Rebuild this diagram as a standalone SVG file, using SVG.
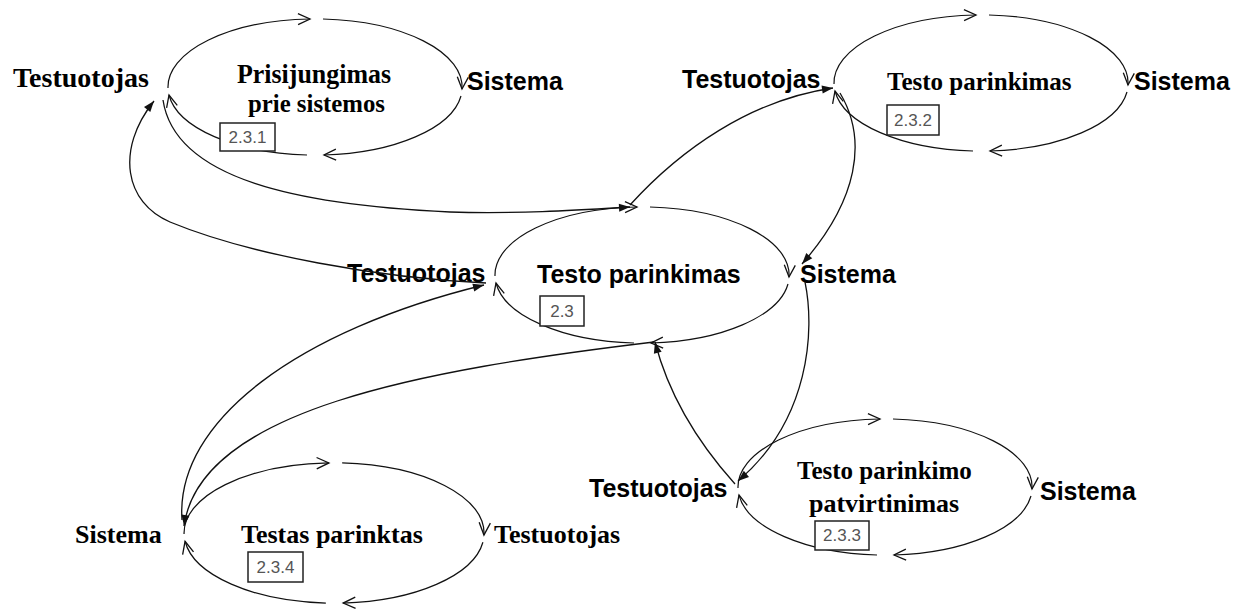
<svg xmlns="http://www.w3.org/2000/svg" width="1244" height="610" viewBox="0 0 1244 610">
  <defs>
    <style>
      .arc{fill:none;stroke:#111;stroke-width:1.2;marker-end:url(#open)}
      .flow{fill:none;stroke:#111;stroke-width:1.3;marker-end:url(#solid)}
      .serif{font-family:"Liberation Serif","Times New Roman",serif;font-weight:bold;fill:#000}
      .sans{font-family:"Liberation Sans",Arial,sans-serif;font-weight:bold;font-size:25px;fill:#000}
      .tag rect{fill:#fff;stroke:#222;stroke-width:1.5}
      .tag text{font-family:"Liberation Sans",Arial,sans-serif;font-size:17px;fill:#555;text-anchor:middle}
    </style>
    <marker id="open" viewBox="0 0 12 12" refX="12" refY="6" markerWidth="12" markerHeight="12" markerUnits="userSpaceOnUse" orient="auto" overflow="visible">
      <path d="M0,0.5 L12,6 L0,11.5" fill="none" stroke="#111" stroke-width="1.3"/>
    </marker>
    <marker id="solid" viewBox="0 0 11 8" refX="11" refY="4" markerWidth="11" markerHeight="8" markerUnits="userSpaceOnUse" orient="auto" overflow="visible">
      <path d="M0,0 L11,4 L0,8 z" fill="#111"/>
    </marker>
    <!-- process loop: four quarter arcs, each ending in an open arrowhead -->
    <g id="loop">
      <path class="arc" d="M-147,1 A147,68 0 0 1 -5,-68"/>
      <path class="arc" d="M8,-68 A147,68 0 0 1 147,2"/>
      <path class="arc" d="M146,9 A147,68 0 0 1 9,68"/>
      <path class="arc" d="M-8,68 A147,68 0 0 1 -146,8"/>
    </g>
  </defs>

  <rect width="1244" height="610" fill="#fff"/>

  <!-- 2.3.1 Prisijungimas prie sistemos -->
  <g id="n231">
    <use href="#loop" transform="translate(315,87)"/>
    <text class="serif" x="13" y="87" font-size="28">Testuotojas</text>
    <text class="serif" x="237" y="83" font-size="27" textLength="154" lengthAdjust="spacingAndGlyphs">Prisijungimas</text>
    <text class="serif" x="248" y="112" font-size="25" textLength="137" lengthAdjust="spacingAndGlyphs">prie sistemos</text>
    <text class="sans" x="467" y="90">Sistema</text>
    <g class="tag"><rect x="220" y="123" width="55" height="28"/><text x="247.5" y="143">2.3.1</text></g>
  </g>

  <!-- 2.3.2 Testo parinkimas -->
  <g id="n232">
    <use href="#loop" transform="translate(981,83)"/>
    <text class="sans" x="682" y="88">Testuotojas</text>
    <text class="serif" x="887" y="90" font-size="25">Testo parinkimas</text>
    <text class="sans" x="1134" y="90">Sistema</text>
    <g class="tag"><rect x="887" y="105" width="52" height="30"/><text x="913" y="126">2.3.2</text></g>
  </g>

  <!-- 2.3 Testo parinkimas (main process) -->
  <g id="n23">
    <use href="#loop" transform="translate(642,275)"/>
    <text class="sans" x="347" y="282">Testuotojas</text>
    <text class="sans" x="537" y="283">Testo parinkimas</text>
    <text class="sans" x="800" y="283">Sistema</text>
    <g class="tag"><rect x="540" y="296" width="44" height="30"/><text x="562" y="317">2.3</text></g>
  </g>

  <!-- 2.3.3 Testo parinkimo patvirtinimas -->
  <g id="n233">
    <use href="#loop" transform="translate(885,487)"/>
    <text class="sans" x="589" y="497">Testuotojas</text>
    <text class="serif" x="797" y="479" font-size="25">Testo parinkimo</text>
    <text class="serif" x="809" y="512" font-size="26">patvirtinimas</text>
    <text class="sans" x="1040" y="500">Sistema</text>
    <g class="tag"><rect x="815" y="521" width="54" height="29"/><text x="842" y="541">2.3.3</text></g>
  </g>

  <!-- 2.3.4 Testas parinktas -->
  <g id="n234">
    <use href="#loop" transform="translate(334,533) scale(1.02,1.03)"/>
    <text class="serif" x="75" y="543" font-size="26">Sistema</text>
    <text class="serif" x="241" y="543" font-size="26">Testas parinktas</text>
    <text class="serif" x="494" y="543" font-size="26">Testuotojas</text>
    <g class="tag"><rect x="248" y="552" width="55" height="30"/><text x="275.5" y="573">2.3.4</text></g>
  </g>

  <!-- flows between the main process and its sub-processes -->
  <g id="connectors">
    <path class="flow" d="M486,283 C380,278 250,255 170,222 C125,203 115,150 154,101"/>
    <path class="flow" d="M163,100 C175,180 300,205 450,212 C520,214 580,210 630,207"/>
    <path class="flow" d="M630,205 C680,150 750,100 833,88"/>
    <path class="flow" d="M840,93 C868,140 858,200 802,264"/>
    <path class="flow" d="M805,282 C815,330 810,420 738,481"/>
    <path class="flow" d="M735,484 C700,445 670,400 655,342"/>
    <path class="flow" d="M654,342 C420,370 200,410 184,526"/>
    <path class="flow" d="M182,520 C175,420 300,330 484,285"/>
  </g>
</svg>
